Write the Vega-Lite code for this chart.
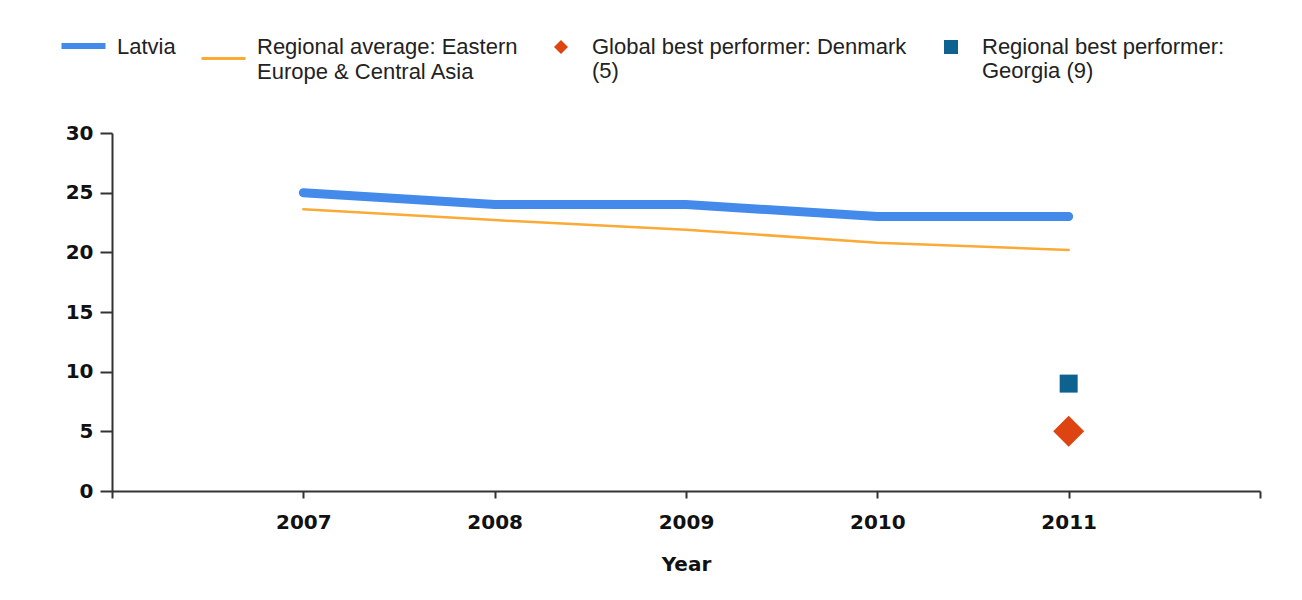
{
  "$schema": "https://vega.github.io/schema/vega-lite/v6.json",
  "width": 1148,
  "height": 358,
  "autosize": {"type": "none"},
  "padding": {"left": 112, "top": 133, "right": 42, "bottom": 109},
  "background": "white",
  "config": {
    "view": {"stroke": null},
    "axis": {
      "domainColor": "#333333",
      "domainWidth": 2,
      "tickColor": "#333333",
      "tickWidth": 2,
      "grid": false,
      "labelFont": "DejaVu Sans",
      "labelFontWeight": "bold",
      "labelFontSize": 20,
      "labelColor": "#111111",
      "titleFont": "DejaVu Sans",
      "titleFontWeight": "bold",
      "titleFontSize": 20,
      "titleColor": "#111111"
    },
    "legend": {
      "labelFont": "Liberation Sans",
      "labelFontSize": 22,
      "labelColor": "#222222",
      "labelLimit": 400,
      "padding": 0
    }
  },
  "datasets": {
    "lines": [
      {"year": 2007, "value": 25, "series": "Latvia"},
      {"year": 2008, "value": 24, "series": "Latvia"},
      {"year": 2009, "value": 24, "series": "Latvia"},
      {"year": 2010, "value": 23, "series": "Latvia"},
      {"year": 2011, "value": 23, "series": "Latvia"},
      {"year": 2007, "value": 23.6, "series": "Regional average: Eastern Europe & Central Asia"},
      {"year": 2008, "value": 22.7, "series": "Regional average: Eastern Europe & Central Asia"},
      {"year": 2009, "value": 21.9, "series": "Regional average: Eastern Europe & Central Asia"},
      {"year": 2010, "value": 20.8, "series": "Regional average: Eastern Europe & Central Asia"},
      {"year": 2011, "value": 20.2, "series": "Regional average: Eastern Europe & Central Asia"}
    ],
    "points": [
      {"year": 2011, "value": 5, "series": "Global best performer: Denmark (5)"},
      {"year": 2011, "value": 9, "series": "Regional best performer: Georgia (9)"}
    ]
  },
  "layer": [
    {
      "data": {"name": "lines"},
      "transform": [{"filter": "datum.series == 'Regional average: Eastern Europe & Central Asia'"}],
      "mark": {"type": "line", "strokeWidth": 2.5, "strokeCap": "round"},
      "encoding": {
        "x": {"field": "year", "type": "quantitative",
          "scale": {"domain": [2006, 2012], "nice": false, "zero": false},
          "axis": {"values": [2006, 2007, 2008, 2009, 2010, 2011, 2012], "format": "d",
            "labelExpr": "datum.value == 2006 || datum.value == 2012 ? '' : datum.label",
            "tickSize": 7, "labelPadding": 14, "title": "Year", "titlePadding": 22}},
        "y": {"field": "value", "type": "quantitative",
          "scale": {"domain": [0, 30], "nice": false},
          "axis": {"values": [0, 5, 10, 15, 20, 25, 30], "title": null, "tickSize": 12, "labelPadding": 7}},
        "stroke": {"field": "series", "type": "nominal",
          "scale": {"domain": ["Latvia", "Regional average: Eastern Europe & Central Asia"], "range": ["#448AEB", "#FBAA36"]},
          "legend": {"title": null, "orient": "none", "direction": "horizontal",
            "legendX": -39.5, "legendY": -99,
            "symbolType": "stroke", "symbolSize": 1936, "labelOffset": 22.5, "columnPadding": 19,
            "labelBaseline": "middle",
            "labelExpr": "datum.label == 'Latvia' ? ['Latvia', ' '] : ['Regional average: Eastern', 'Europe & Central Asia']",
            "encode": {
              "symbols": {"update": {
                "strokeWidth": {"signal": "datum.value == 'Latvia' ? 6 : 3"},
                "y": {"signal": "datum.value == 'Latvia' ? 12 : 24.5"}}},
              "labels": {"update": {"lineHeight": {"value": 25}, "y": {"value": 13}}}
            }}}
      }
    },
    {
      "data": {"name": "lines"},
      "transform": [{"filter": "datum.series == 'Latvia'"}],
      "mark": {"type": "line", "strokeWidth": 9, "strokeCap": "round"},
      "encoding": {
        "x": {"field": "year", "type": "quantitative"},
        "y": {"field": "value", "type": "quantitative"},
        "stroke": {"field": "series", "type": "nominal"}
      }
    },
    {
      "data": {"name": "points"},
      "transform": [{"filter": "datum.series == 'Regional best performer: Georgia (9)'"}],
      "mark": {"type": "point", "filled": true, "opacity": 1, "size": 324},
      "encoding": {
        "x": {"field": "year", "type": "quantitative"},
        "y": {"field": "value", "type": "quantitative"},
        "shape": {"field": "series", "type": "nominal",
          "scale": {"domain": ["Global best performer: Denmark (5)", "Regional best performer: Georgia (9)"], "range": ["diamond", "square"]},
          "legend": {"title": null, "orient": "none", "direction": "horizontal",
            "legendX": 438, "legendY": -97,
            "symbolSize": 196, "labelOffset": 20, "columnPadding": 33,
            "labelBaseline": "middle",
            "labelExpr": "datum.label == 'Global best performer: Denmark (5)' ? ['Global best performer: Denmark', '(5)'] : ['Regional best performer:', 'Georgia (9)']",
            "encode": {
              "symbols": {"update": {
                "size": {"signal": "datum.value == 'Global best performer: Denmark (5)' ? 110 : 196"},
                "fill": {"signal": "datum.value == 'Global best performer: Denmark (5)' ? '#DD4411' : '#0E6290'"},
                "shape": {"signal": "datum.value == 'Global best performer: Denmark (5)' ? 'M0,1.19L1,2.19L0,3.19L-1,2.19Z' : 'M-1,0.64L1,0.64L1,2.64L-1,2.64Z'"}}}
            }}},
        "fill": {"field": "series", "type": "nominal",
          "scale": {"domain": ["Global best performer: Denmark (5)", "Regional best performer: Georgia (9)"], "range": ["#DD4411", "#0E6290"]},
          "legend": null}
      }
    },
    {
      "data": {"name": "points"},
      "transform": [{"filter": "datum.series == 'Global best performer: Denmark (5)'"}],
      "mark": {"type": "point", "filled": true, "opacity": 1, "size": 961},
      "encoding": {
        "x": {"field": "year", "type": "quantitative"},
        "y": {"field": "value", "type": "quantitative"},
        "shape": {"field": "series", "type": "nominal"},
        "fill": {"field": "series", "type": "nominal", "legend": null}
      }
    }
  ]
}
